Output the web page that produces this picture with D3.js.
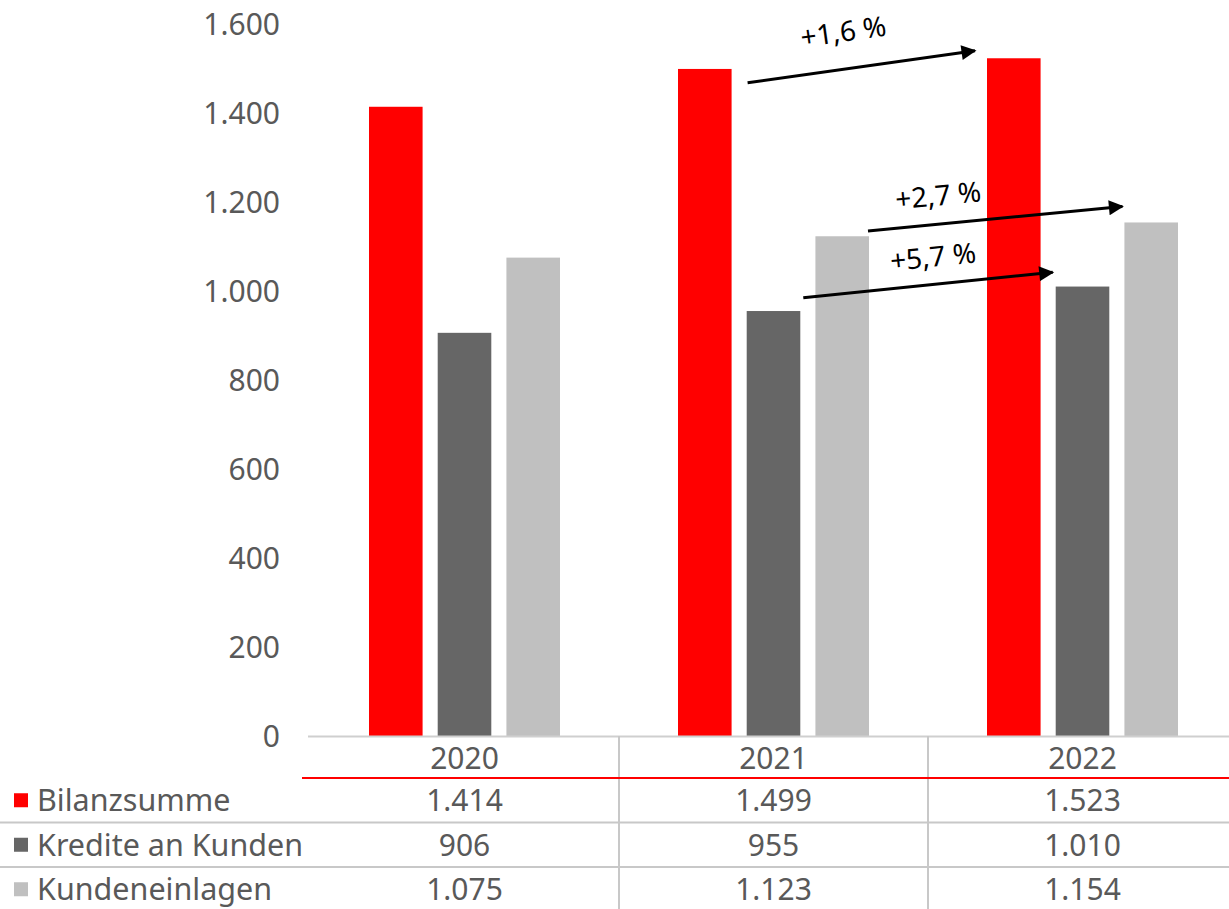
<!DOCTYPE html>
<html>
<head>
<meta charset="utf-8">
<script src="https://cdn.jsdelivr.net/npm/d3@7"></script>
<style>
  body { margin: 0; background: #fff; overflow: hidden; }
  svg text { font-family: "Noto Sans", sans-serif; }
</style>
</head>
<body>
<div id="chart"></div>
<script>
var years = ["2020", "2021", "2022"];
var seriesNames = ["Bilanzsumme", "Kredite an Kunden", "Kundeneinlagen"];
var bilanzsumme = [1414, 1499, 1523];
var kredite = [906, 955, 1010];
var einlagen = [1075, 1123, 1154];
var yTicks = [0, 200, 400, 600, 800, 1000, 1200, 1400, 1600];
var colors = ["#ff0000", "#666666", "#c0c0c0"];

// growth annotations 2021 -> 2022: series index, label, arrow start/end level
var growthLabels = [
    { series: 0, label: "+1,6 %", from: 1468, to: 1540, dx1: 16, dx2: -12, lx: -18, ly: -35 },
    { series: 2, label: "+2,7 %", from: 1135, to: 1190, dx1: -1, dx2: -2, lx: -57, ly: -23 },
    { series: 1, label: "+5,7 %", from: 985, to: 1042, dx1: 3, dx2: -3, lx: 5, ly: -28 }
];

var svgWidth = 1229;
var svgHeight = 909;
var margin = { top: 24, right: -8, bottom: 173, left: 310 };
var width = svgWidth - margin.left - margin.right;
var height = svgHeight - margin.top - margin.bottom;

var allSeries = [bilanzsumme, kredite, einlagen];
var numFmt = d3.formatLocale({ decimal: ",", thousands: ".", grouping: [3], currency: ["", "€"] }).format(",");

var svg = d3.select("#chart")
    .append("svg")
    .attr("width", svgWidth)
    .attr("height", svgHeight);

svg.append("defs").append("marker")
    .attr("id", "arrowhead")
    .attr("viewBox", "0 0 10 10")
    .attr("refX", 9)
    .attr("refY", 5)
    .attr("markerWidth", 7.5)
    .attr("markerHeight", 5)
    .attr("markerUnits", "strokeWidth")
    .attr("orient", "auto")
    .append("path")
    .attr("d", "M0,0 L10,5 L0,10 z")
    .attr("fill", "#000");

var chartGroup = svg.append("g")
    .attr("transform", `translate(${margin.left}, ${margin.top})`);

var xScale = d3.scaleBand()
    .domain(years)
    .range([0, width]);

var xInner = d3.scaleBand()
    .domain(d3.range(seriesNames.length))
    .range([59, xScale.bandwidth() - 59])
    .paddingInner(0.22);

var yScale = d3.scaleLinear()
    .domain([0, 1600])
    .range([height, 0]);

// y axis labels
var leftAxis = d3.axisLeft(yScale)
    .tickValues(yTicks)
    .tickSize(0)
    .tickPadding(30)
    .tickFormat(numFmt);

var yAxis = chartGroup.append("g").call(leftAxis);
yAxis.select(".domain").remove();
yAxis.selectAll("text")
    .attr("font-size", "30px")
    .attr("fill", "#595959")
    .attr("dy", "0.36em");

// bars
var groups = chartGroup.selectAll(".year")
    .data(years)
    .enter()
    .append("g")
    .attr("transform", d => `translate(${xScale(d)}, 0)`);

groups.selectAll("rect")
    .data((d, i) => allSeries.map((s, k) => ({ k: k, v: s[i] })))
    .enter()
    .append("rect")
    .attr("x", d => xInner(d.k))
    .attr("y", d => yScale(d.v))
    .attr("width", xInner.bandwidth())
    .attr("height", d => height - yScale(d.v))
    .attr("fill", d => colors[d.k]);

// baseline
chartGroup.append("line")
    .attr("x1", -2)
    .attr("x2", width)
    .attr("y1", height + 0.5)
    .attr("y2", height + 0.5)
    .attr("stroke", "#cfcfcf")
    .attr("stroke-width", 2);

// data table
var headerY = height + 22;
var rowH = 44.5;
var redLineY = height + 42;

years.forEach(function (yr, i) {
    if (i > 0) {
        chartGroup.append("line")
            .attr("x1", xScale(yr))
            .attr("x2", xScale(yr))
            .attr("y1", height)
            .attr("y2", svgHeight - margin.top)
            .attr("stroke", "#c8c8c8")
            .attr("stroke-width", 2);
    }
    chartGroup.append("text")
        .attr("x", xScale(yr) + xScale.bandwidth() / 2)
        .attr("y", headerY)
        .attr("dy", "0.36em")
        .attr("text-anchor", "middle")
        .attr("font-size", "30px")
        .attr("fill", "#595959")
        .text(yr);
});

// row separators
[1, 2].forEach(function (r) {
    chartGroup.append("line")
        .attr("x1", -margin.left)
        .attr("x2", width)
        .attr("y1", redLineY + rowH * r)
        .attr("y2", redLineY + rowH * r)
        .attr("stroke", "#c8c8c8")
        .attr("stroke-width", 2);
});

chartGroup.append("line")
    .attr("x1", -8)
    .attr("x2", width)
    .attr("y1", redLineY)
    .attr("y2", redLineY)
    .attr("stroke", "#ff0000")
    .attr("stroke-width", 2);

seriesNames.forEach(function (name, k) {
    var cy = redLineY + rowH * k + rowH / 2;
    chartGroup.append("rect")
        .attr("x", -margin.left + 14)
        .attr("y", cy - 7)
        .attr("width", 14)
        .attr("height", 14)
        .attr("fill", colors[k]);
    chartGroup.append("text")
        .attr("x", -margin.left + 37)
        .attr("y", cy)
        .attr("dy", "0.36em")
        .attr("font-size", "30.5px")
        .attr("fill", "#595959")
        .text(name);
    allSeries[k].forEach(function (v, i) {
        chartGroup.append("text")
            .attr("x", xScale(years[i]) + xScale.bandwidth() / 2)
            .attr("y", cy)
            .attr("dy", "0.36em")
            .attr("text-anchor", "middle")
            .attr("font-size", "30px")
            .attr("fill", "#595959")
            .text(numFmt(v));
    });
});

// growth arrows 2021 -> 2022
growthLabels.forEach(function (g) {
    var x1 = xScale("2021") + xInner(g.series) + xInner.bandwidth() + g.dx1;
    var x2 = xScale("2022") + xInner(g.series) + g.dx2;
    var y1 = yScale(g.from);
    var y2 = yScale(g.to);
    chartGroup.append("line")
        .attr("x1", x1)
        .attr("y1", y1)
        .attr("x2", x2)
        .attr("y2", y2)
        .attr("stroke", "#000")
        .attr("stroke-width", 3)
        .attr("marker-end", "url(#arrowhead)");
    var mx = (x1 + x2) / 2 + g.lx;
    var my = (y1 + y2) / 2 + g.ly;
    var angle = Math.atan2(y2 - y1, x2 - x1) * 180 / Math.PI;
    chartGroup.append("text")
        .attr("transform", `translate(${mx}, ${my}) rotate(${angle})`)
        .attr("text-anchor", "middle")
        .attr("dy", "0.35em")
        .attr("font-family", "'Open Sans', sans-serif")
        .attr("font-size", "28px")
        .attr("fill", "#000")
        .text(g.label);
});
</script>
</body>
</html>
